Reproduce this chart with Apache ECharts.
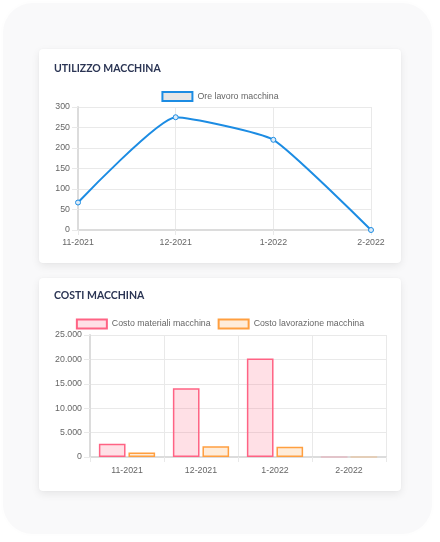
<!DOCTYPE html>
<html>
<head>
<meta charset="utf-8">
<script src="https://cdn.jsdelivr.net/npm/echarts@6/dist/echarts.min.js"></script>
<style>
  html, body { margin:0; padding:0; background:#ffffff; width:440px; height:542px; overflow:hidden; }
  #panel { position:absolute; left:3px; top:3px; width:429px; height:531px; border-radius:30px; background:#f9f9fa;
           box-shadow: 0 0 6px rgba(0,0,0,0.015); }
  .card { position:absolute; left:39px; width:362px; background:#ffffff; border-radius:4px;
          box-shadow: 0 3px 8px rgba(0,0,0,0.08), 0 0 2px rgba(0,0,0,0.04); }
  .chart { width:100%; height:100%; }
</style>
</head>
<body>
<div id="panel"></div>
<div class="card" style="top:49px;height:214px;"><div id="c1" class="chart"></div></div>
<div class="card" style="top:278px;height:213px;"><div id="c2" class="chart"></div></div>
<script>
// ---- data ----
const months = ['11-2021', '12-2021', '1-2022', '2-2022'];
const oreLavoro = [67, 275, 220, 0];
const costoMateriali = [2700, 14100, 20200, 0];
const costoLavorazione = [900, 2200, 2100, 0];
const hoursTicks = { min: 0, max: 300, interval: 50 };
const costTicks = { min: 0, max: 25000, interval: 5000 };

const FONT = '"Liberation Sans", Helvetica, Arial, sans-serif';
const TITLE_FONT = 'Lato, "Open Sans", sans-serif';
const BLUE = '#1c8ce3';
const PINK = 'rgb(255,99,132)';
const ORANGE = 'rgb(255,159,64)';
const GRID = '#e9e9e9';
const AXIS = '#dcdcdc';
const LABEL = '#666666';
const FS = 8.8;

function thousands(v) { return String(v).replace(/\B(?=(\d{3})+(?!\d))/g, '.'); }

const titleStyle = { fontFamily: TITLE_FONT, fontWeight: 'bold', fontSize: 10.5, color: '#2b3554' };

const c1 = echarts.init(document.getElementById('c1'), null, { renderer: 'canvas' });
c1.setOption({
  animation: false,
  title: { text: 'UTILIZZO MACCHINA', left: 15, top: 14, padding: 0, textStyle: titleStyle },
  legend: {
    top: 42, left: 'center', padding: 0, itemWidth: 30, itemHeight: 9, itemGap: 7,
    textStyle: { fontFamily: FONT, fontSize: FS, color: LABEL },
    data: [{ name: 'Ore lavoro macchina', icon: 'rect',
             itemStyle: { color: '#e6e6e6', borderColor: BLUE, borderWidth: 2 } }]
  },
  grid: { left: 39, right: 30, top: 58, bottom: 33, containLabel: false },
  xAxis: {
    type: 'category', data: months, boundaryGap: false,
    axisLine: { lineStyle: { color: AXIS, width: 2 } },
    axisTick: { show: true, length: 5, lineStyle: { color: GRID } },
    axisLabel: { color: LABEL, fontFamily: FONT, fontSize: FS, margin: 8 },
    splitLine: { show: true, lineStyle: { color: GRID } }
  },
  yAxis: {
    type: 'value', min: hoursTicks.min, max: hoursTicks.max, interval: hoursTicks.interval,
    axisLine: { show: true, lineStyle: { color: AXIS, width: 2 } },
    axisTick: { show: true, length: 6, lineStyle: { color: GRID } },
    axisLabel: { color: LABEL, fontFamily: FONT, fontSize: FS, margin: 8 },
    splitLine: { show: true, lineStyle: { color: GRID } }
  },
  series: [{
    name: 'Ore lavoro macchina', type: 'line', data: oreLavoro, smooth: 0.15,
    symbol: 'circle', symbolSize: 5,
    lineStyle: { color: BLUE, width: 2 },
    itemStyle: { color: '#dcebf8', borderColor: BLUE, borderWidth: 1 }
  }]
});

const c2 = echarts.init(document.getElementById('c2'), null, { renderer: 'canvas' });
function barData(vals, faint) {
  return vals.map(v => v === 0 ? { value: 0, itemStyle: { borderColor: faint } } : v);
}
c2.setOption({
  animation: false,
  title: { text: 'COSTI MACCHINA', left: 15, top: 12, padding: 0, textStyle: titleStyle },
  legend: {
    top: 40.5, left: 'center', padding: 0, itemWidth: 30, itemHeight: 9, itemGap: 7,
    textStyle: { fontFamily: FONT, fontSize: FS, color: LABEL },
    data: [
      { name: 'Costo materiali macchina', icon: 'rect',
        itemStyle: { color: 'rgba(255,99,132,0.2)', borderColor: PINK, borderWidth: 2 } },
      { name: 'Costo lavorazione macchina', icon: 'rect',
        itemStyle: { color: 'rgba(255,159,64,0.2)', borderColor: ORANGE, borderWidth: 2 } }
    ]
  },
  grid: { left: 51, right: 15, top: 57, bottom: 34, containLabel: false },
  xAxis: {
    type: 'category', data: months, boundaryGap: true,
    axisLine: { lineStyle: { color: AXIS, width: 2 } },
    axisTick: { show: true, length: 5, lineStyle: { color: GRID } },
    axisLabel: { color: LABEL, fontFamily: FONT, fontSize: FS, margin: 9 },
    splitLine: { show: true, lineStyle: { color: GRID } }
  },
  yAxis: {
    type: 'value', min: costTicks.min, max: costTicks.max, interval: costTicks.interval,
    axisLine: { show: true, lineStyle: { color: AXIS, width: 2 } },
    axisTick: { show: true, length: 6, lineStyle: { color: GRID } },
    axisLabel: { color: LABEL, fontFamily: FONT, fontSize: FS, margin: 8, formatter: thousands },
    splitLine: { show: true, lineStyle: { color: GRID } }
  },
  series: [
    { name: 'Costo materiali macchina', type: 'bar', data: barData(costoMateriali, 'rgba(255,99,132,0.25)'),
      barGap: '11%', barCategoryGap: '24%',
      itemStyle: { color: 'rgba(255,99,132,0.2)', borderColor: PINK, borderWidth: 1.5 } },
    { name: 'Costo lavorazione macchina', type: 'bar', data: barData(costoLavorazione, 'rgba(255,159,64,0.3)'),
      barGap: '11%', barCategoryGap: '24%',
      itemStyle: { color: 'rgba(255,159,64,0.2)', borderColor: ORANGE, borderWidth: 1.5 } }
  ]
});
</script>
</body>
</html>
